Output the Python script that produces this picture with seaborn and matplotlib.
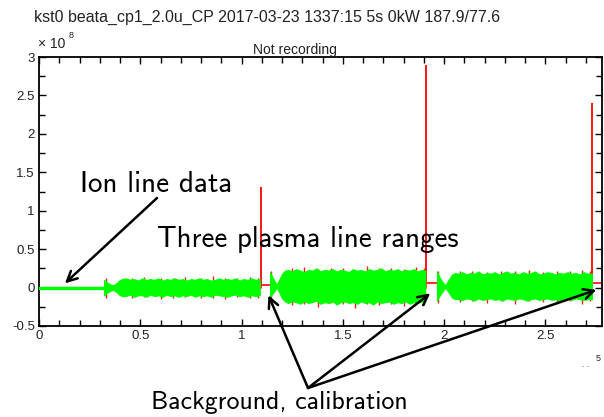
import matplotlib
matplotlib.use("Agg")
import matplotlib.pyplot as plt
import numpy as np
import pandas as pd
import seaborn as sns
from matplotlib.ticker import MultipleLocator, FuncFormatter

# ---------------- data (x in units of 1e5 samples, y in units of 1e8) ----------------
title = "kst0 beata_cp1_2.0u_CP 2017-03-23 1337:15 5s 0kW 187.9/77.6"
status = "Not recording"

ion_x = [0.0, 0.321]
ion_y = [0.0, 0.0]

seg1_x = [0.321, 0.335, 0.35, 0.366, 0.38, 0.395, 0.41,
          0.43, 0.45, 0.47, 0.49, 0.51, 0.53, 0.55, 0.57, 0.59, 0.61, 0.63, 0.65,
          0.67, 0.69, 0.71, 0.73, 0.75, 0.77, 0.79, 0.81, 0.83, 0.85, 0.87, 0.89,
          0.91, 0.93, 0.95, 0.97, 0.99, 1.01, 1.03, 1.05, 1.07, 1.09]
seg1_hi = [0.10, 0.07, 0.045, 0.03, 0.05, 0.09, 0.11,
           0.12, 0.10, 0.11, 0.09, 0.12, 0.10, 0.11, 0.10, 0.12, 0.09, 0.11, 0.10,
           0.12, 0.10, 0.11, 0.09, 0.11, 0.10, 0.12, 0.10, 0.11, 0.09, 0.10, 0.12,
           0.10, 0.11, 0.10, 0.12, 0.09, 0.11, 0.10, 0.12, 0.10, 0.11]
seg1_lo = [-0.10, -0.07, -0.045, -0.03, -0.05, -0.09, -0.11,
           -0.11, -0.09, -0.12, -0.10, -0.10, -0.12, -0.09, -0.11, -0.10, -0.12, -0.09, -0.11,
           -0.10, -0.12, -0.10, -0.11, -0.09, -0.12, -0.10, -0.11, -0.10, -0.12, -0.09, -0.10,
           -0.11, -0.12, -0.10, -0.09, -0.11, -0.10, -0.12, -0.10, -0.11, -0.10]

seg2_x = [1.141, 1.15, 1.162, 1.174, 1.186, 1.20, 1.215,
          1.23, 1.25, 1.27, 1.29, 1.31, 1.33, 1.35, 1.37, 1.39, 1.41, 1.43, 1.45,
          1.47, 1.49, 1.51, 1.53, 1.55, 1.57, 1.59, 1.61, 1.63, 1.65, 1.67, 1.69,
          1.71, 1.73, 1.75, 1.77, 1.79, 1.81, 1.83, 1.85, 1.87, 1.89, 1.907]
seg2_hi = [0.20, 0.15, 0.09, 0.04, 0.10, 0.18, 0.22,
           0.23, 0.21, 0.24, 0.22, 0.20, 0.23, 0.22, 0.25, 0.21, 0.23, 0.22, 0.24,
           0.21, 0.23, 0.22, 0.20, 0.24, 0.22, 0.23, 0.21, 0.24, 0.22, 0.23, 0.25,
           0.21, 0.23, 0.22, 0.24, 0.21, 0.23, 0.22, 0.24, 0.21, 0.23, 0.22]
seg2_lo = [-0.12, -0.09, -0.05, 0.00, -0.06, -0.14, -0.18,
           -0.20, -0.18, -0.19, -0.21, -0.18, -0.20, -0.19, -0.17, -0.21, -0.19, -0.20, -0.18,
           -0.22, -0.19, -0.18, -0.20, -0.19, -0.21, -0.18, -0.20, -0.19, -0.22, -0.18, -0.20,
           -0.19, -0.18, -0.21, -0.19, -0.20, -0.18, -0.21, -0.19, -0.20, -0.18, -0.19]

seg3_x = [1.965, 1.975, 1.99, 2.006, 2.02, 2.039, 2.055,
          2.07, 2.09, 2.11, 2.13, 2.15, 2.17, 2.19, 2.21, 2.23, 2.25, 2.27, 2.29,
          2.31, 2.33, 2.35, 2.37, 2.39, 2.41, 2.43, 2.45, 2.47, 2.49, 2.51, 2.53,
          2.55, 2.57, 2.59, 2.61, 2.63, 2.65, 2.67, 2.69, 2.71, 2.73]
seg3_hi = [0.21, 0.15, 0.08, 0.03, 0.09, 0.17, 0.19,
           0.18, 0.20, 0.17, 0.19, 0.18, 0.21, 0.17, 0.19, 0.18, 0.20, 0.17, 0.19,
           0.21, 0.18, 0.19, 0.17, 0.20, 0.18, 0.19, 0.21, 0.17, 0.18, 0.20, 0.19,
           0.17, 0.19, 0.18, 0.20, 0.18, 0.19, 0.17, 0.20, 0.18, 0.18]
seg3_lo = [-0.17, -0.12, -0.06, 0.00, -0.05, -0.13, -0.15,
           -0.15, -0.16, -0.14, -0.15, -0.17, -0.14, -0.16, -0.15, -0.14, -0.16, -0.15, -0.17,
           -0.14, -0.15, -0.16, -0.14, -0.15, -0.17, -0.15, -0.14, -0.16, -0.15, -0.14, -0.16,
           -0.15, -0.17, -0.14, -0.15, -0.16, -0.14, -0.15, -0.16, -0.15, -0.15]

# red excursions poking out of the green band
tip_x = [0.33, 0.46, 0.52, 0.60, 0.66, 0.72, 0.80, 0.86, 0.92, 0.98, 1.04, 1.08,
         1.145, 1.25, 1.31, 1.38, 1.44, 1.50, 1.56, 1.62, 1.68, 1.74, 1.80, 1.86, 1.90,
         1.968, 2.08, 2.14, 2.21, 2.28, 2.35, 2.42, 2.49, 2.56, 2.62, 2.68, 2.72]
tip_lo = [-0.13, -0.14, -0.12, -0.15, -0.13, -0.12, -0.14, -0.13, -0.15, -0.12, -0.14, -0.13,
          -0.15, -0.23, -0.21, -0.25, -0.20, -0.22, -0.26, -0.21, -0.23, -0.22, -0.24, -0.21, -0.23,
          -0.20, -0.19, -0.18, -0.20, -0.18, -0.21, -0.17, -0.19, -0.20, -0.18, -0.21, -0.17]
tip_hi = [0.12, 0.13, 0.14, 0.12, 0.13, 0.14, 0.12, 0.15, 0.12, 0.13, 0.14, 0.12,
          0.22, 0.25, 0.27, 0.24, 0.26, 0.25, 0.23, 0.28, 0.25, 0.26, 0.24, 0.27, 0.25,
          0.22, 0.21, 0.22, 0.20, 0.22, 0.21, 0.23, 0.20, 0.22, 0.21, 0.23, 0.21]

# calibration spikes and background gaps (red trace)
spike_x = [1.094, 1.912, 2.733]
spike_top = [1.29, 2.88, 2.39]
gap_end = [1.141, 1.965, 2.80]
gap_level = [0.03, 0.06, 0.055]

# ---------------- styling ----------------
sns.set_theme(style="ticks")
plt.rcParams["font.family"] = ["Liberation Sans", "DejaVu Sans"]
plt.rcParams["axes.unicode_minus"] = False

W, H = 604, 417
fig = plt.figure(figsize=(W / 100, H / 100), dpi=100, facecolor="white")
ax = fig.add_axes([39 / W, (H - 326) / H, (602 - 39) / W, (326 - 57) / H])
ax.set_facecolor("white")

GREEN = "#00ff00"
RED = "#ff1a1a"

# red trace
rows = []
for i, (sx, top, ge, lv) in enumerate(zip(spike_x, spike_top, gap_end, gap_level)):
    rows += [(i, sx, 0.0), (i, sx, top), (i, sx, lv), (i, ge, lv)]
red_df = pd.DataFrame(rows, columns=["gap", "x", "y"])
sns.lineplot(data=red_df, x="x", y="y", units="gap", estimator=None, sort=False,
             color=RED, lw=1.3, ax=ax, legend=False, zorder=2)
ax.vlines(tip_x, tip_lo, tip_hi, color=RED, lw=1.0, zorder=2)

# green data
for sx, slo, shi in [(seg1_x, seg1_lo, seg1_hi), (seg2_x, seg2_lo, seg2_hi), (seg3_x, seg3_lo, seg3_hi)]:
    ax.fill_between(sx, slo, shi, color=GREEN, lw=0.8, edgecolor=GREEN, zorder=3)
sns.lineplot(x=ion_x, y=ion_y, color=GREEN, lw=2.5, ax=ax, zorder=3)

ax.set_xlim(0, 2.78)
ax.set_ylim(-0.5, 3.0)
ax.set_xlabel("")
ax.set_ylabel("")

fmt = FuncFormatter(lambda v, p: f"{v:g}")
ax.xaxis.set_major_locator(MultipleLocator(0.5))
ax.xaxis.set_minor_locator(MultipleLocator(0.1))
ax.yaxis.set_major_locator(MultipleLocator(0.5))
ax.yaxis.set_minor_locator(MultipleLocator(0.25))
ax.xaxis.set_major_formatter(fmt)
ax.yaxis.set_major_formatter(fmt)
ax.tick_params(which="both", direction="in", top=True, right=True, color="black",
               labelsize=9.5, labelcolor="#222222", pad=3)
ax.tick_params(which="major", length=5, width=1)
ax.tick_params(which="minor", length=4, width=1)
for s in ax.spines.values():
    s.set_color("black")
    s.set_linewidth(1.3)

# header texts
fig.text(267 / W, (H - 22) / H, title, ha="center", va="baseline", fontsize=11.5, color="#222222")
fig.text(295 / W, (H - 54) / H, status, ha="center", va="baseline", fontsize=10, color="#222222")
fig.text(38 / W, (H - 48) / H, "\u00d7 10", ha="left", va="baseline", fontsize=10, color="#222222")
fig.text(69 / W, (H - 38) / H, "8", ha="left", va="baseline", fontsize=6.5, color="#222222")
fig.text(582 / W, (H - 367) / H, ". .", ha="left", va="baseline", fontsize=6, color="#222222")
fig.text(596 / W, (H - 361) / H, "5", ha="left", va="baseline", fontsize=6.5, color="#222222")

# annotations
fam = ["cmss10", "DejaVu Sans"]
fig.text(80 / W, (H - 192) / H, "Ion line data", ha="left", va="baseline",
         family=fam, fontsize=21, color="black")
fig.text(157 / W, (H - 247) / H, "Three plasma line ranges", ha="left", va="baseline",
         family=fam, fontsize=20.9, color="black")
fig.text(151 / W, (H - 409) / H, "Background, calibration", ha="left", va="baseline",
         family=fam, fontsize=18.6, color="black")

arrow = dict(arrowstyle="->", lw=1.8, color="black", mutation_scale=18, shrinkA=0, shrinkB=0)
ax.annotate("", xy=(0.128, 0.055), xytext=(157, H - 198), textcoords="figure pixels",
            arrowprops=arrow, annotation_clip=False, zorder=5)
for tx, ty in [(1.133, -0.10), (1.932, -0.075), (2.752, -0.03)]:
    ax.annotate("", xy=(tx, ty), xytext=(308, H - 388), textcoords="figure pixels",
                arrowprops=arrow, annotation_clip=False, zorder=5)

fig.savefig("out.png", dpi=100, facecolor="white")
